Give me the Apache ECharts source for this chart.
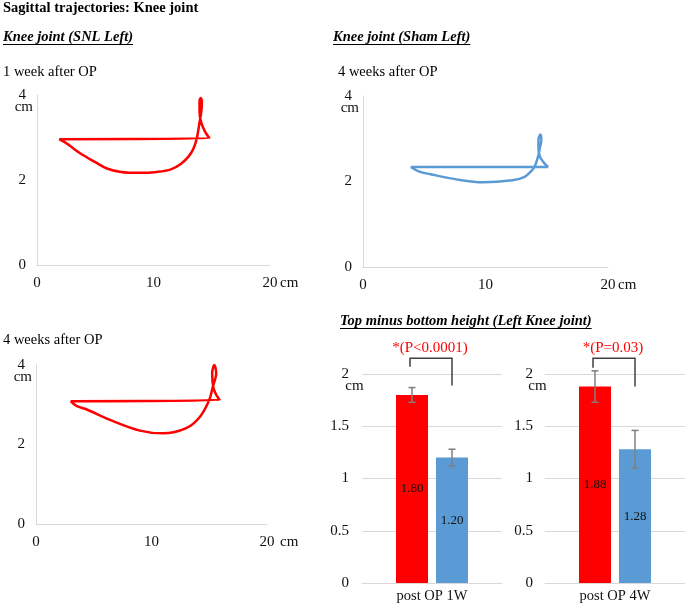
<!DOCTYPE html>
<html>
<head>
<meta charset="UTF-8">
<title>Sagittal trajectories: Knee joint</title>
<script src="https://cdn.jsdelivr.net/npm/echarts@6/dist/echarts.min.js"></script>
<style>
  html, body { margin: 0; padding: 0; background: #fff; }
  #main { width: 685px; height: 608px; }
</style>
</head>
<body>
<div id="main"></div>
<script>
// trajectories, [x cm, y cm]
var trajSnl1w = [[1.9, 2.96], [2.6, 2.85], [3.7, 2.63], [5.0, 2.42], [6.0, 2.27], [7.2, 2.19], [8.8, 2.17],
  [10.3, 2.19], [11.5, 2.25], [12.4, 2.39], [13.0, 2.55], [13.4, 2.72], [13.7, 2.96], [13.95, 3.35],
  [14.12, 3.65], [14.15, 3.85], [14.05, 3.93], [13.95, 3.85], [13.95, 3.6], [14.1, 3.35], [14.4, 3.15],
  [14.8, 2.98], [1.9, 2.96]];
var trajSham4w = [[3.9, 2.34], [4.6, 2.23], [5.5, 2.17], [7.6, 2.05], [9.8, 1.98], [12.2, 2.03], [13.2, 2.11],
  [13.75, 2.25], [14.0, 2.34], [14.29, 2.58], [14.45, 2.8], [14.56, 2.97], [14.48, 3.1], [14.32, 2.97],
  [14.32, 2.8], [14.42, 2.6], [14.7, 2.46], [15.1, 2.34], [3.9, 2.34]];
var trajSnl4w = [[3.0, 3.09], [3.5, 2.97], [4.4, 2.88], [6.4, 2.62], [9.0, 2.35], [11.0, 2.28], [13.0, 2.41],
  [14.2, 2.7], [15.0, 3.12], [15.3, 3.44], [15.6, 3.79], [15.44, 4.0], [15.25, 3.79], [15.35, 3.44],
  [15.6, 3.25], [15.9, 3.12], [3.0, 3.09]];

// bar chart: top minus bottom height (cm)
var periods = ['post OP 1W', 'post OP 4W'];
var snlMean = [1.80, 1.88];
var shamMean = [1.20, 1.28];
var snlErr = [0.07, 0.15];
var shamErr = [0.08, 0.18];
var pTexts = ['*(P<0.0001)', '*(P=0.03)'];
var bracketTop = [2.15, 2.15];
var bracketLeft = [2.07, 2.06];
var bracketRight = [1.89, 1.88];

var RED = '#ff0000', BLUE = '#5b9bd5';
var SERIF = '"Liberation Serif", "Times New Roman", serif';

var chart = echarts.init(document.getElementById('main'));

// measure text for the underlines
var ctx = document.createElement('canvas').getContext('2d');
function textW(t, font) { ctx.font = font; return ctx.measureText(t).width; }

var graphic = [];
function addText(t, x, y, font, underline) {
  graphic.push({ type: 'text', style: { text: t, x: x, y: y, font: font, fill: '#000', verticalAlign: 'middle' } });
  if (underline) {
    graphic.push({ type: 'rect', shape: { x: x, y: y + 7, width: textW(t, font), height: 1 }, style: { fill: '#000' } });
  }
}
var F_BOLD = 'bold 14.5px ' + SERIF;
var F_HEAD = 'italic bold 14.5px ' + SERIF;
var F_REG = '14.5px ' + SERIF;
addText('Sagittal trajectories: Knee joint', 3, 8, F_BOLD);
addText('Knee joint (SNL Left)', 3, 37, F_HEAD, true);
addText('Knee joint (Sham Left)', 333, 37, F_HEAD, true);
addText('1 week after OP', 3, 72, F_REG);
addText('4 weeks after OP', 338, 72, F_REG);
addText('4 weeks after OP', 3, 340, F_REG);
addText('Top minus bottom height (Left Knee joint)', 340, 321, F_HEAD, true);

var grids = [
  { left: 37, top: 95, width: 233, height: 170 },
  { left: 363, top: 96, width: 245, height: 171 },
  { left: 36, top: 365, width: 231, height: 159 },
  { left: 362, top: 374, width: 140, height: 209 },
  { left: 545, top: 374, width: 140, height: 209 }
];

var xAxes = [], yAxes = [], series = [];
var lbl = { fontFamily: SERIF, fontSize: 15, color: '#111' };
var nameFont = { fontFamily: SERIF, fontSize: 15, color: '#111' };

// trajectory panels
[[trajSnl1w, RED, 10], [trajSham4w, BLUE, 10], [trajSnl4w, RED, 13]].forEach(function (p, i) {
  xAxes.push({
    gridIndex: i, type: 'value', min: 0, max: 20, interval: 10,
    name: 'cm', nameLocation: 'end', nameGap: p[2], nameMoveOverlap: false,
    nameTextStyle: Object.assign({ verticalAlign: 'top', padding: [11, 0, 0, 0] }, nameFont),
    axisLine: { show: true, lineStyle: { color: '#d9d9d9' } },
    axisTick: { show: false }, splitLine: { show: false },
    axisLabel: Object.assign({ margin: 11 }, lbl)
  });
  yAxes.push({
    gridIndex: i, type: 'value', min: 0, max: 4, interval: 2,
    name: 'cm', nameLocation: 'end', nameGap: -12, nameMoveOverlap: false,
    nameTextStyle: Object.assign({ align: 'right', verticalAlign: 'middle', padding: [0, 4, 0, 0] }, nameFont),
    axisLine: { show: true, lineStyle: { color: '#d9d9d9' } },
    axisTick: { show: false }, splitLine: { show: false },
    axisLabel: Object.assign({ margin: 11 }, lbl)
  });
  series.push({
    type: 'line', xAxisIndex: i, yAxisIndex: i, data: p[0], smooth: 0.35,
    showSymbol: false, lineStyle: { color: p[1], width: 2.5 }, itemStyle: { color: p[1] }
  });
});

// bar panels
function errRender(offset) {
  return function (params, api) {
    var ci = api.value(0), m = api.value(1), e = api.value(2);
    var hi = api.coord([ci, m + e]), lo = api.coord([ci, m - e]);
    var x = hi[0] + offset;
    var st = { stroke: '#7f7f7f', lineWidth: 1.5 };
    return {
      type: 'group', children: [
        { type: 'line', shape: { x1: x, y1: hi[1], x2: x, y2: lo[1] }, style: st },
        { type: 'line', shape: { x1: x - 3.5, y1: hi[1], x2: x + 3.5, y2: hi[1] }, style: st },
        { type: 'line', shape: { x1: x - 3.5, y1: lo[1], x2: x + 3.5, y2: lo[1] }, style: st }
      ]
    };
  };
}
function bracketRender(k) {
  return function (params, api) {
    var ci = api.value(0);
    var top = api.coord([ci, api.value(1)]);
    var l = api.coord([ci, api.value(2)]);
    var r = api.coord([ci, api.value(3)]);
    var t = api.coord([ci, 2.25]);
    var xl = top[0] - 22, xr = top[0] + 20;
    return {
      type: 'group', children: [
        { type: 'polyline', shape: { points: [[xl, l[1]], [xl, top[1]], [xr, top[1]], [xr, r[1]]] },
          style: { stroke: '#404040', lineWidth: 1.5, fill: null } },
        { type: 'text', x: top[0] - 2, y: t[1], style: { text: pTexts[k], fill: RED, font: '15px ' + SERIF, align: 'center', verticalAlign: 'middle' } }
      ]
    };
  };
}

periods.forEach(function (per, k) {
  var gi = 3 + k;
  xAxes.push({
    gridIndex: gi, type: 'category', data: [per],
    axisLine: { show: true, lineStyle: { color: '#d9d9d9' } },
    axisTick: { show: false },
    axisLabel: Object.assign({ margin: 6 }, lbl, { fontSize: 14.5 })
  });
  yAxes.push({
    gridIndex: gi, type: 'value', min: 0, max: 2, interval: 0.5,
    name: 'cm', nameLocation: 'end', nameGap: -12, nameMoveOverlap: false,
    nameTextStyle: Object.assign({ align: 'center', verticalAlign: 'middle', padding: [0, 15, 0, 0] }, nameFont),
    axisLine: { show: false }, axisTick: { show: false },
    splitLine: { lineStyle: { color: '#d9d9d9' } },
    axisLabel: Object.assign({ margin: k === 0 ? 13 : 12 }, lbl)
  });
  var barLabel = { show: true, position: 'inside', fontFamily: SERIF, fontSize: 13, color: '#111',
    formatter: function (p) { return p.value.toFixed(2); } };
  series.push({
    name: 'SNL', type: 'bar', xAxisIndex: gi, yAxisIndex: gi, data: [snlMean[k]],
    barWidth: 32, barGap: '25%', itemStyle: { color: RED }, label: barLabel
  });
  series.push({
    name: 'Sham', type: 'bar', xAxisIndex: gi, yAxisIndex: gi, data: [shamMean[k]],
    barWidth: 32, barGap: '25%', itemStyle: { color: BLUE }, label: barLabel
  });
  series.push({
    type: 'custom', xAxisIndex: gi, yAxisIndex: gi, z: 5, renderItem: errRender(-20),
    data: [[0, snlMean[k], snlErr[k]]], encode: { x: 0, y: 1 }
  });
  series.push({
    type: 'custom', xAxisIndex: gi, yAxisIndex: gi, z: 5, renderItem: errRender(20),
    data: [[0, shamMean[k], shamErr[k]]], encode: { x: 0, y: 1 }
  });
  series.push({
    type: 'custom', xAxisIndex: gi, yAxisIndex: gi, z: 5, renderItem: bracketRender(k),
    data: [[0, bracketTop[k], bracketLeft[k], bracketRight[k]]], encode: { x: 0, y: 1 }
  });
});

chart.setOption({
  animation: false,
  backgroundColor: '#fff',
  textStyle: { fontFamily: SERIF },
  graphic: graphic,
  grid: grids,
  xAxis: xAxes,
  yAxis: yAxes,
  series: series
});
</script>
</body>
</html>
